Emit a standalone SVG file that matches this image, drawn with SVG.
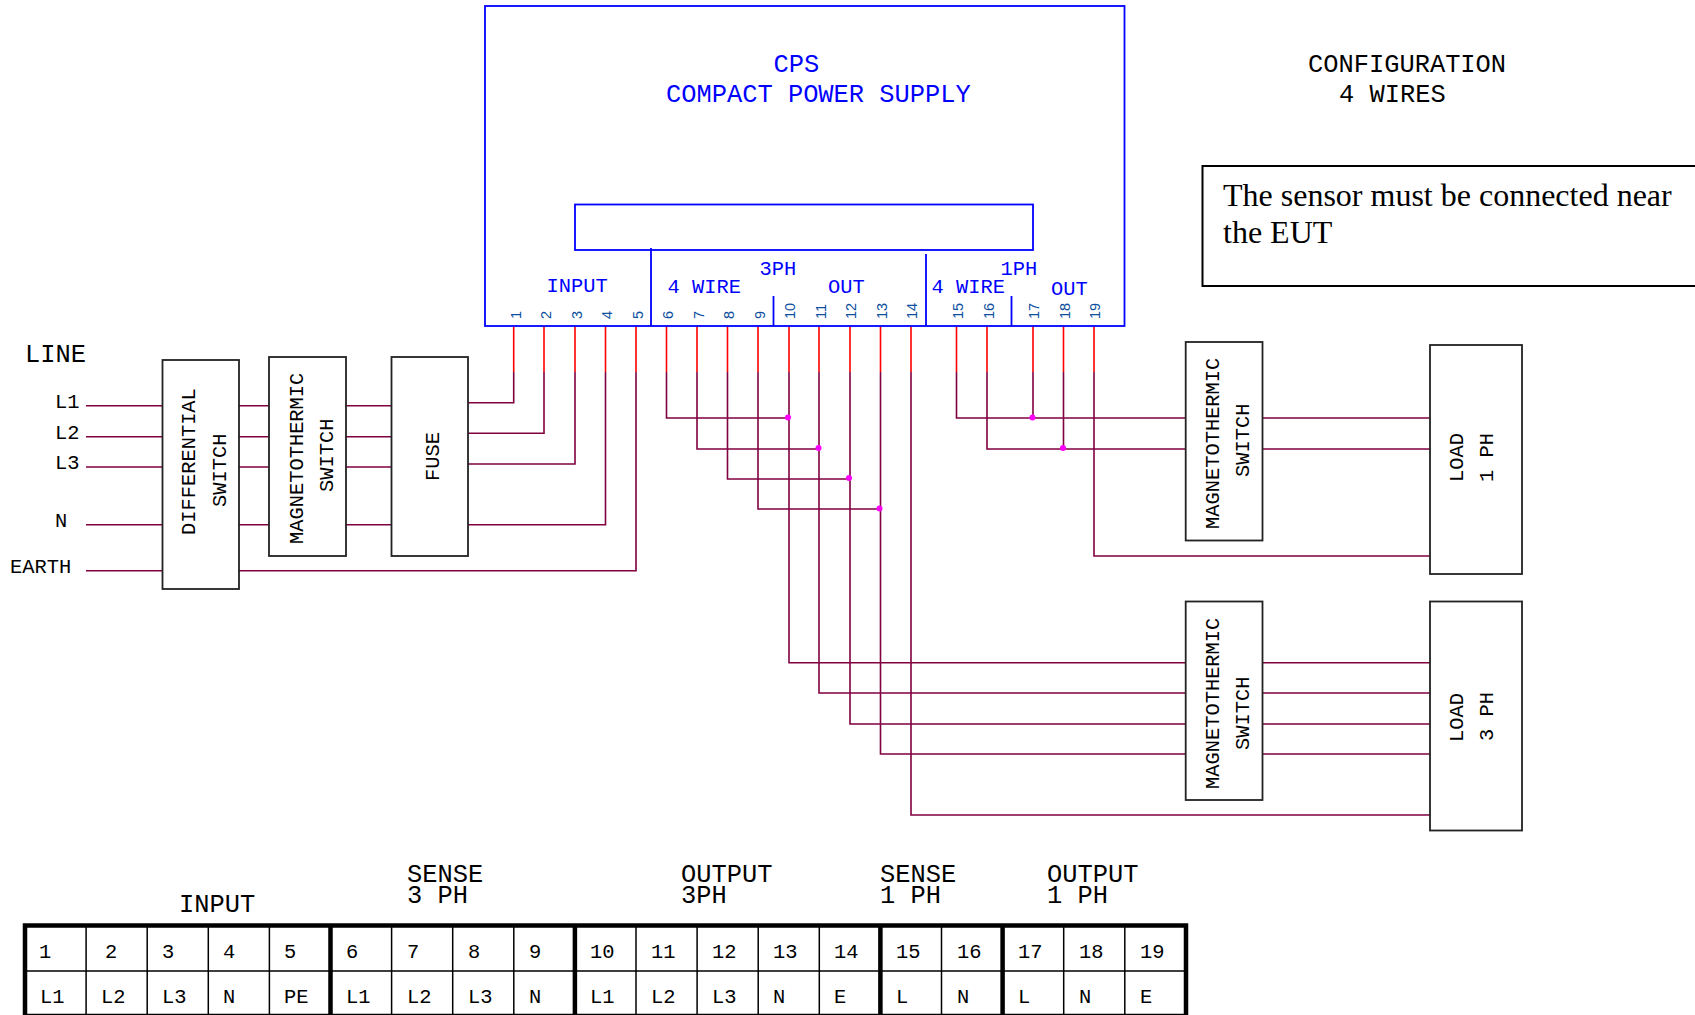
<svg xmlns="http://www.w3.org/2000/svg" width="1695" height="1015" viewBox="0 0 1695 1015">
<style>
text{font-family:"Liberation Mono",monospace;fill:#000}
.b{fill:#fff;stroke:#222;stroke-width:1.8}
.c{fill:none;stroke:#0000ff;stroke-width:1.8}
.w{fill:none;stroke:#800040;stroke-width:1.6}
.r{fill:none;stroke:#ff0000;stroke-width:1.6}
.d{fill:#ff00ff;stroke:none}
.m{font-size:25.4px}
.s{font-size:20.4px}
.bl{fill:#0000ff}
.p{font-family:"Liberation Sans",Arial,sans-serif;font-size:14.5px;fill:#0b4f9e}
.t{stroke:#000;stroke-width:1.5;fill:none}
.T{stroke:#000;stroke-width:4.5;fill:none}
.n{font-family:"Liberation Serif",serif;font-size:32px}
</style>
<rect width="1695" height="1015" fill="#fff"/>
<g id="connectors">
<path class="w" d="M86 405.7H162.5M86 436.7H162.5M86 467H162.5M86 524.7H162.5M86 570.7H162.5"/>
<path class="w" d="M239 405.7H269M239 436.7H269M239 467H269M239 524.7H269"/>
<path class="w" d="M346 405.7H391.5M346 436.7H391.5M346 467H391.5M346 524.7H391.5"/>
<path class="w" d="M468 402.7H513.7V372M468 433.3H544V372M468 464H575V372M468 524.7H605.5V372M239 570.7H636V372"/>
<path class="w" d="M666.5 372V418H789M697 372V449H819M727.5 372V479H850M758 372V509H880.5"/>
<path class="w" d="M789 372V662.7H1186M819 372V693H1186M850 372V724H1186M880.5 372V754H1186M911 372V815H1430"/>
<path class="w" d="M1262.5 662.7H1430M1262.5 693H1430M1262.5 724H1430M1262.5 754H1430"/>
<path class="w" d="M956.5 372V418H1186M987 372V449H1186M1033 372V418M1063.5 372V449M1094 372V556H1430"/>
<path class="w" d="M1262.5 418H1430M1262.5 449H1430"/>
<path class="r" d="M513.7 326V372M544 326V372M575 326V372M605.5 326V372M636 326V372M666.5 326V372M697 326V372M727.5 326V372M758 326V372M789 326V372M819 326V372M850 326V372M880.5 326V372M911 326V372M956.5 326V372M987 326V372M1033 326V372M1063.5 326V372M1094 326V372"/>
<circle class="d" cx="788" cy="417.5" r="3"/><circle class="d" cx="818.5" cy="448" r="3"/><circle class="d" cx="849" cy="478" r="3"/><circle class="d" cx="879.5" cy="508.5" r="3"/><circle class="d" cx="1032.5" cy="417.5" r="3"/><circle class="d" cx="1063" cy="448" r="3"/>
</g>
<g id="cps">
<rect class="c" x="485" y="6" width="639.5" height="320"/>
<rect class="c" x="575" y="204.5" width="458" height="45.5"/>
<path class="c" d="M651 248V326M773.5 296V326M926 254V326M1011.5 296V326"/>
<text class="m bl" x="773.500" y="72">CPS</text>
<text class="m bl" x="666" y="102">COMPACT POWER SUPPLY</text>
<text class="s bl" x="546.500" y="291.500">INPUT</text>
<text class="s bl" x="667.500" y="292.500" xml:space="preserve">4 WIRE</text>
<text class="s bl" x="759.500" y="274.500">3PH</text>
<text class="s bl" x="828" y="292.500">OUT</text>
<text class="s bl" x="931.500" y="292.500" xml:space="preserve">4 WIRE</text>
<text class="s bl" x="1000.500" y="274.500">1PH</text>
<text class="s bl" x="1051" y="294.500">OUT</text>
<text class="p" transform="translate(520.500 319) rotate(-90)">1</text>
<text class="p" transform="translate(551 319) rotate(-90)">2</text>
<text class="p" transform="translate(581.500 319) rotate(-90)">3</text>
<text class="p" transform="translate(611.500 319) rotate(-90)">4</text>
<text class="p" transform="translate(642.500 319) rotate(-90)">5</text>
<text class="p" transform="translate(672.500 319) rotate(-90)">6</text>
<text class="p" transform="translate(703.500 319) rotate(-90)">7</text>
<text class="p" transform="translate(734 319) rotate(-90)">8</text>
<text class="p" transform="translate(765 319) rotate(-90)">9</text>
<text class="p" transform="translate(795 319) rotate(-90)">10</text>
<text class="p" transform="translate(825.500 319) rotate(-90)">11</text>
<text class="p" transform="translate(856 319) rotate(-90)">12</text>
<text class="p" transform="translate(886.500 319) rotate(-90)">13</text>
<text class="p" transform="translate(917 319) rotate(-90)">14</text>
<text class="p" transform="translate(963 319) rotate(-90)">15</text>
<text class="p" transform="translate(994 319) rotate(-90)">16</text>
<text class="p" transform="translate(1039 319) rotate(-90)">17</text>
<text class="p" transform="translate(1070 319) rotate(-90)">18</text>
<text class="p" transform="translate(1100 319) rotate(-90)">19</text>
</g>
<g id="config"><text class="m" x="1308" y="72">CONFIGURATION</text><text class="m" x="1339" y="102" xml:space="preserve">4 WIRES</text></g>
<g id="note">
<rect x="1202.5" y="166" width="520" height="120" fill="#fff" stroke="#000" stroke-width="2"/>
<text class="n" x="1223" y="206">The sensor must be connected near</text>
<text class="n" x="1223" y="243">the EUT</text>
</g>
<g id="line-labels">
<text class="m" x="25" y="362">LINE</text>
<text class="s" x="55" y="408">L1</text><text class="s" x="55" y="438.500">L2</text><text class="s" x="55" y="468.500">L3</text><text class="s" x="55" y="527">N</text><text class="s" x="10" y="573">EARTH</text>
</g>
<g id="differential-switch"><rect class="b" x="162.5" y="360" width="76.5" height="229"/>
<text class="s" transform="translate(195 535) rotate(-90)">DIFFERENTIAL</text><text class="s" transform="translate(225.5 507) rotate(-90)">SWITCH</text></g>
<g id="magnetothermic-1"><rect class="b" x="269" y="357" width="77" height="199"/>
<text class="s" transform="translate(302.5 544) rotate(-90)">MAGNETOTHERMIC</text><text class="s" transform="translate(332.5 492) rotate(-90)">SWITCH</text></g>
<g id="fuse"><rect class="b" x="391.5" y="357" width="76.5" height="199"/>
<text class="s" transform="translate(439 481) rotate(-90)">FUSE</text></g>
<g id="magnetothermic-2"><rect class="b" x="1185.7" y="342" width="76.8" height="198.5"/>
<text class="s" transform="translate(1219 529) rotate(-90)">MAGNETOTHERMIC</text><text class="s" transform="translate(1249 477) rotate(-90)">SWITCH</text></g>
<g id="load-1"><rect class="b" x="1430" y="345" width="92" height="229"/>
<text class="s" transform="translate(1463 482) rotate(-90)">LOAD</text><text class="s" transform="translate(1493 482) rotate(-90)" xml:space="preserve">1 PH</text></g>
<g id="magnetothermic-3"><rect class="b" x="1185.7" y="601.5" width="76.8" height="198.5"/>
<text class="s" transform="translate(1219 789) rotate(-90)">MAGNETOTHERMIC</text><text class="s" transform="translate(1249 750) rotate(-90)">SWITCH</text></g>
<g id="load-3"><rect class="b" x="1430" y="601.5" width="92" height="229"/>
<text class="s" transform="translate(1463 742) rotate(-90)">LOAD</text><text class="s" transform="translate(1493 741) rotate(-90)" xml:space="preserve">3 PH</text></g>
<g id="table">
<text class="m" x="179" y="912">INPUT</text>
<text class="m" x="407" y="882">SENSE</text><text class="m" x="407" y="903" xml:space="preserve">3 PH</text>
<text class="m" x="681" y="882">OUTPUT</text><text class="m" x="681" y="903">3PH</text>
<text class="m" x="880" y="882">SENSE</text><text class="m" x="880" y="903" xml:space="preserve">1 PH</text>
<text class="m" x="1047" y="882">OUTPUT</text><text class="m" x="1047" y="903" xml:space="preserve">1 PH</text>
<path class="t" d="M25 971H1186M25 1014.5H1186M86.100 925V1016M147.200 925V1016M208.300 925V1016M269.400 925V1016M391.600 925V1016M452.700 925V1016M513.800 925V1016M636 925V1016M697.100 925V1016M758.200 925V1016M819.300 925V1016M941.500 925V1016M1063.700 925V1016M1124.800 925V1016"/>
<path class="T" d="M25 1016V925.500H1186V1016M330.500 925V1016M574.900 925V1016M880.400 925V1016M1002.600 925V1016"/>
<text class="s" x="39" y="958">1</text><text class="s" x="105" y="958">2</text><text class="s" x="162" y="958">3</text><text class="s" x="223" y="958">4</text><text class="s" x="284" y="958">5</text><text class="s" x="346" y="958">6</text><text class="s" x="407" y="958">7</text><text class="s" x="468" y="958">8</text><text class="s" x="529" y="958">9</text><text class="s" x="590" y="958">10</text><text class="s" x="651" y="958">11</text><text class="s" x="712" y="958">12</text><text class="s" x="773" y="958">13</text><text class="s" x="834" y="958">14</text><text class="s" x="896" y="958">15</text><text class="s" x="957" y="958">16</text><text class="s" x="1018" y="958">17</text><text class="s" x="1079" y="958">18</text><text class="s" x="1140" y="958">19</text>
<text class="s" x="40" y="1003">L1</text><text class="s" x="101" y="1003">L2</text><text class="s" x="162" y="1003">L3</text><text class="s" x="223" y="1003">N</text><text class="s" x="284" y="1003">PE</text><text class="s" x="346" y="1003">L1</text><text class="s" x="407" y="1003">L2</text><text class="s" x="468" y="1003">L3</text><text class="s" x="529" y="1003">N</text><text class="s" x="590" y="1003">L1</text><text class="s" x="651" y="1003">L2</text><text class="s" x="712" y="1003">L3</text><text class="s" x="773" y="1003">N</text><text class="s" x="834" y="1003">E</text><text class="s" x="896" y="1003">L</text><text class="s" x="957" y="1003">N</text><text class="s" x="1018" y="1003">L</text><text class="s" x="1079" y="1003">N</text><text class="s" x="1140" y="1003">E</text>
</g>
</svg>
